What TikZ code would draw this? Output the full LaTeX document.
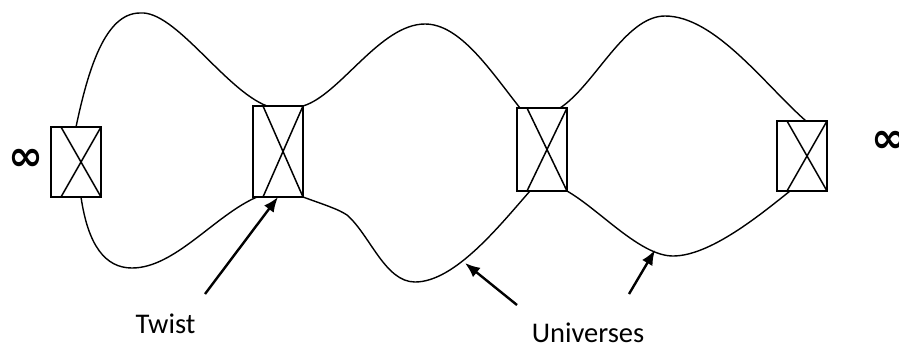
\documentclass[tikz,border=0pt]{standalone}
\usepackage{fontspec}
\setmainfont{Carlito}
\newfontfamily\symfont{DejaVu Sans}
\usepackage{tikz}
\usetikzlibrary{arrows.meta}

\begin{document}
\begin{tikzpicture}[x=1pt, y=-1pt, font=\fontsize{28.5}{30}\selectfont, >={Latex[length=15pt,width=12pt]},
        twistbox/.style={draw, line width=1.8pt, inner sep=0pt, outer sep=0pt, minimum width=50pt},
        infsign/.style={inner sep=0pt, font=\symfont\bfseries\fontsize{42}{42}\selectfont},
        universe/.style={line width=1.4pt},
        pointer/.style={->, line width=2.4pt}]
        \useasboundingbox (0,0) rectangle (899,346);
        \node[twistbox, minimum height=70pt] (b1) at (76,162) {};
        \node[twistbox, minimum height=91pt] (b2) at (278,151.5) {};
        \node[twistbox, minimum height=83pt] (b3) at (542,149.5) {};
        \node[twistbox, minimum height=70pt] (b4) at (802,156) {};
        \foreach \b in {b1,b2,b3,b4}
            \draw[line width=1.5pt] ([xshift=10pt]\b.north west) -- (\b.south east)
                ([xshift=10pt]\b.south west) -- (\b.north east);
        \node[infsign] (infl) at (26,160) {∞};
        \node[infsign] (infr) at (888.5,142) {∞};
        \draw[universe] (b1.north) .. controls (88,70) and (105,13) .. (140,13)
            .. controls (175,10) and (225,90) .. ([xshift=-11pt]b2.north);
        \draw[universe] (b2.north east) .. controls (340,95) and (380,24) .. (425,24)
            .. controls (460,24) and (490,70) .. ([xshift=3pt]b3.north west);
        \draw[universe] ([xshift=-7pt]b3.north east) .. controls (595,85) and (625,16) .. (665,16)
            .. controls (715,16) and (765,85) .. ([xshift=4pt]b4.north);
        \draw[universe] ([xshift=5pt]b1.south) .. controls (88,245) and (105,268) .. (132,268)
            .. controls (175,268) and (215,215) .. ([xshift=4pt]b2.south west);
        \draw[universe] (b2.south east) .. controls (325,205) and (338,209) .. (347,215)
            .. controls (370,235) and (385,282) .. (415,282)
            .. controls (455,282) and (500,225) .. ([xshift=-12pt]b3.south);
        \draw[universe] (b3.south east) .. controls (600,210) and (640,256) .. (673,256)
            .. controls (710,256) and (760,215) .. ([xshift=-12pt]b4.south);
        \node[anchor=base, inner sep=0pt] (twist) at (165.5,333) {Twist};
        \node[anchor=base, inner sep=0pt] (univ) at (588,342) {Universes};
        \coordinate (twtail) at (205,294);
        \coordinate (untail1) at (517,305);
        \coordinate (untip1) at (465,263);
        \coordinate (untail2) at (629,294);
        \coordinate (untip2) at (655,250);
        \draw[pointer] (twtail) -- (b2.south);
        \draw[pointer] (untail1) -- (untip1);
        \draw[pointer] (untail2) -- (untip2);
\end{tikzpicture}
\end{document}
